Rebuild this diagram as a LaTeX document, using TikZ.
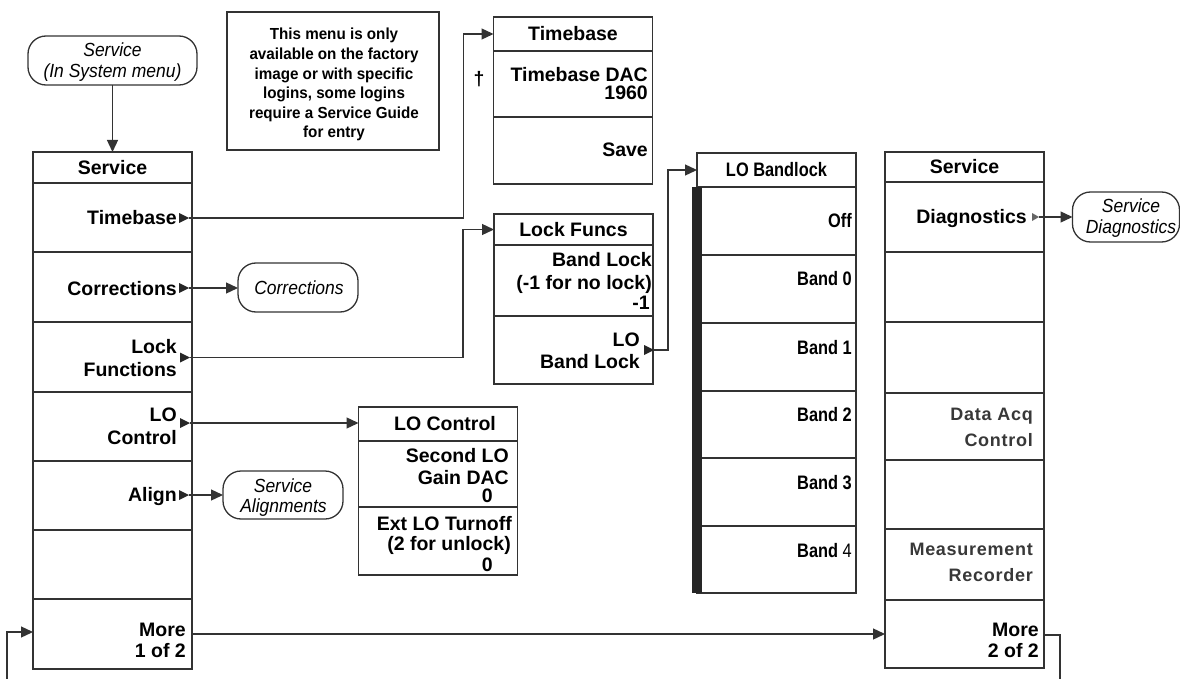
\documentclass[tikz,border=0pt]{standalone}
\usepackage{fontspec}
\setmainfont{Liberation Sans}
\newfontfamily\lbfont[FakeStretch=0.84]{Liberation Sans}
\newfontfamily\itfont[FakeStretch=0.92]{Liberation Sans}
\newfontfamily\notefont[FakeStretch=0.95]{Liberation Sans}
\newfontfamily\spacedfont[LetterSpace=4]{Liberation Sans}
\usetikzlibrary{arrows.meta}
\newcommand{\mk}[3]{\fill[black!85] ({#2-10},{#3-5}) -- (#2,#3) -- ({#2-10},{#3+5}) -- cycle; \coordinate (#1) at (#2,#3);}
\begin{document}
\begin{tikzpicture}[x=1pt,y=-1pt,
  ln/.style={draw=black!80, line width=1.3pt},
  cell/.style={ln, minimum width=159pt, inner sep=0pt, outer sep=0pt},
  hdr/.style={cell, font=\bfseries\fontsize{19.5}{22}\selectfont},
  lbhdr/.style={cell, font=\lbfont\bfseries\fontsize{19.5}{22}\selectfont},
  itm/.style={anchor=base east, inner sep=0pt, font=\bfseries\fontsize{19.5}{22}\selectfont},
  lbitm/.style={anchor=base east, inner sep=0pt, font=\lbfont\bfseries\fontsize{19.5}{22}\selectfont},
  gitm/.style={anchor=base east, inner sep=0pt, text=black!78, font=\spacedfont\bfseries\fontsize{18}{20}\selectfont},
  ititm/.style={anchor=base, inner sep=0pt, font=\itfont\itshape\fontsize{19}{21}\selectfont},
  notetx/.style={anchor=base, inner sep=0pt, font=\notefont\bfseries\fontsize{16}{19.6}\selectfont},
  rbox/.style={ln, rounded corners=18pt, inner sep=0pt, outer sep=0pt},
  arr/.style={ln, -{Triangle[length=12pt,width=11pt]}}
]
\useasboundingbox (0,0) rectangle (1180,679);

% entry box
\node[rbox, minimum width=169pt, minimum height=49pt] (sism) at (112.5,60.5) {};
\node[ititm] (sismA) at (112.5,57) {Service};
\node[ititm] (sismB) at (112.5,78) {(In System menu)};

% note
\node[ln, minimum width=212pt, minimum height=138pt, inner sep=0pt] (note) at (333,81) {};
\node[notetx] (n1) at (334,40) {This menu is only};
\node[notetx] (n2) at (334,60) {available on the factory};
\node[notetx] (n3) at (334,80) {image or with specific};
\node[notetx] (n4) at (334,99) {logins, some logins};
\node[notetx] (n5) at (334,119) {require a Service Guide};
\node[notetx] (n6) at (334,138) {for entry};

% left Service menu
\node[hdr, minimum height=31pt] (sL0) at (112.5,167.5) {Service};
\node[cell, minimum height=69pt] (sL1) at (112.5,217.5) {};
\node[cell, minimum height=70pt] (sL2) at (112.5,287) {};
\node[cell, minimum height=70pt] (sL3) at (112.5,357) {};
\node[cell, minimum height=69pt] (sL4) at (112.5,426.5) {};
\node[cell, minimum height=69pt] (sL5) at (112.5,495.5) {};
\node[cell, minimum height=69pt] (sL6) at (112.5,564.5) {};
\node[cell, minimum height=70pt] (sL7) at (112.5,634) {};
\node[itm] (tTB) at (177,225) {Timebase};
\node[itm] (tCo) at (177,295) {Corrections};
\node[itm] (tLF1) at (177,353) {Lock};
\node[itm] (tLF2) at (177,376) {Functions};
\node[itm] (tLO1) at (177,421.5) {LO};
\node[itm] (tLO2) at (177,444) {Control};
\node[itm] (tAl) at (177,501.5) {Align};
\node[itm] (tMo1) at (186,636.5) {More};
\node[itm] (tMo2) at (186,657) {1 of 2};
\mk{mTB}{189}{218}
\mk{mCo}{189}{288}
\mk{mLF}{190}{357.5}
\mk{mLO}{190}{423}
\mk{mAl}{189}{495}

% Timebase menu
\node[hdr, minimum height=34pt] (tb0) at (573,34) {Timebase};
\node[cell, minimum height=66pt] (tb1) at (573,84) {};
\node[cell, minimum height=67pt] (tb2) at (573,150.5) {};
\node[itm] (tbA) at (648,81.5) {Timebase DAC};
\node[itm] (tbB) at (648,100) {1960};
\node[itm] (tbC) at (648,157) {Save};
\node[inner sep=0pt, font=\bfseries\fontsize{19.5}{22}\selectfont] (dag) at (479,79.5) {†};

% Lock Funcs menu
\node[hdr, minimum height=31pt] (lf0) at (573.5,229.5) {Lock Funcs};
\node[cell, minimum height=71pt] (lf1) at (573.5,280.5) {};
\node[cell, minimum height=68pt] (lf2) at (573.5,350) {};
\node[itm] (lfA) at (652,266.5) {Band Lock};
\node[itm] (lfB) at (652,289) {(-1 for no lock)};
\node[itm] (lfC) at (650,309) {-1};
\node[itm] (lfD) at (640,346) {LO};
\node[itm] (lfE) at (640,368) {Band Lock};
\mk{mBL}{654}{350}

% LO Control menu
\node[hdr, minimum height=34pt] (lc0) at (438,424) {\hspace*{14pt}LO Control};
\node[cell, minimum height=66pt] (lc1) at (438,474) {};
\node[cell, minimum height=68pt] (lc2) at (438,541) {};
\node[itm] (lcA) at (509,462) {Second LO};
\node[itm] (lcB) at (509,484) {Gain DAC};
\node[itm] (lcC) at (493,502.5) {0};
\node[itm] (lcD) at (512,530) {Ext LO Turnoff};
\node[itm] (lcE) at (511,550) {(2 for unlock)};
\node[itm] (lcF) at (493,571.5) {0};

% LO Bandlock menu
\node[lbhdr, minimum height=34pt] (lb0) at (776.5,170) {LO Bandlock};
\node[cell, minimum height=68pt] (lb1) at (776.5,221) {};
\node[cell, minimum height=68pt] (lb2) at (776.5,289) {};
\node[cell, minimum height=68pt] (lb3) at (776.5,357) {};
\node[cell, minimum height=67pt] (lb4) at (776.5,424.5) {};
\node[cell, minimum height=68pt] (lb5) at (776.5,492) {};
\node[cell, minimum height=67pt] (lb6) at (776.5,559.5) {};
\fill[black!85] (692,187) rectangle (702,593);
\node[lbitm] (lbA) at (852,227) {Off};
\node[lbitm] (lbB) at (852,285.5) {Band 0};
\node[lbitm] (lbC) at (852,354) {Band 1};
\node[lbitm] (lbD) at (852,421.5) {Band 2};
\node[lbitm] (lbE) at (852,489) {Band 3};
\node[lbitm] (lbF) at (852,557) {Band {\mdseries 4}};

% right Service menu
\node[hdr, minimum height=30pt] (sR0) at (964.5,167) {Service};
\node[cell, minimum height=70pt] (sR1) at (964.5,217) {};
\node[cell, minimum height=70pt] (sR2) at (964.5,287) {};
\node[cell, minimum height=71pt] (sR3) at (964.5,357.5) {};
\node[cell, minimum height=67pt] (sR4) at (964.5,426.5) {};
\node[cell, minimum height=69pt] (sR5) at (964.5,494.5) {};
\node[cell, minimum height=71pt] (sR6) at (964.5,564.5) {};
\node[cell, minimum height=68pt] (sR7) at (964.5,634) {};
\node[itm] (rA) at (1027,223.3) {Diagnostics};
\node[gitm] (rB) at (1033,420.5) {Data Acq};
\node[gitm] (rC) at (1033,446) {Control};
\node[gitm] (rD) at (1033,555) {Measurement};
\node[gitm] (rE) at (1033,581.5) {Recorder};
\node[itm] (rF) at (1039,636) {More};
\node[itm] (rG) at (1039,657) {2 of 2};
\fill[black!60] (1032,213) -- (1039,217) -- (1032,221) -- cycle;
\coordinate (mDi) at (1039,217);

% rounded target boxes
\node[rbox, minimum width=120pt, minimum height=49pt] (corr) at (298,287.5) {};
\node[ititm] (corrT) at (299,294) {Corrections};
\node[rbox, minimum width=120pt, minimum height=48pt] (salign) at (283,495) {};
\node[ititm] (salA) at (283,492) {Service};
\node[ititm] (salB) at (283.5,512) {Alignments};
\node[rbox, minimum width=107pt, minimum height=50pt] (sdiag) at (1126,217) {};
\node[ititm] (sdA) at (1131,212.5) {Service};
\node[ititm] (sdB) at (1131,233.5) {Diagnostics};

% connectors
\draw[arr] (sism) -- (sL0);
\draw[arr] (mTB) -| ([xshift=-30pt]tb0.west) -- (tb0.west);
\draw[arr] (mCo) -- (mCo -| corr.west);
\draw[arr] (mLF) -| ([xshift=-31pt]lf0.west) -- (lf0.west);
\draw[arr] (mLO) -- (mLO -| lc0.west);
\draw[arr] (mAl) -- (mAl -| salign.west);
\draw[arr] (mBL) -| ([xshift=-29pt]lb0.west) -- (lb0.west);
\draw[arr] (mDi) -- (mDi -| sdiag.west);
\draw[arr] (sL7.east) -- (sR7.west);
\coordinate (loopR) at (1060,700);
\coordinate (loopL) at (7,700);
\draw[ln] ([yshift=-1pt]sR7.east) -| (loopR);
\draw[arr] (loopL) |- ([yshift=2pt]sL7.west);
\end{tikzpicture}
\end{document}
